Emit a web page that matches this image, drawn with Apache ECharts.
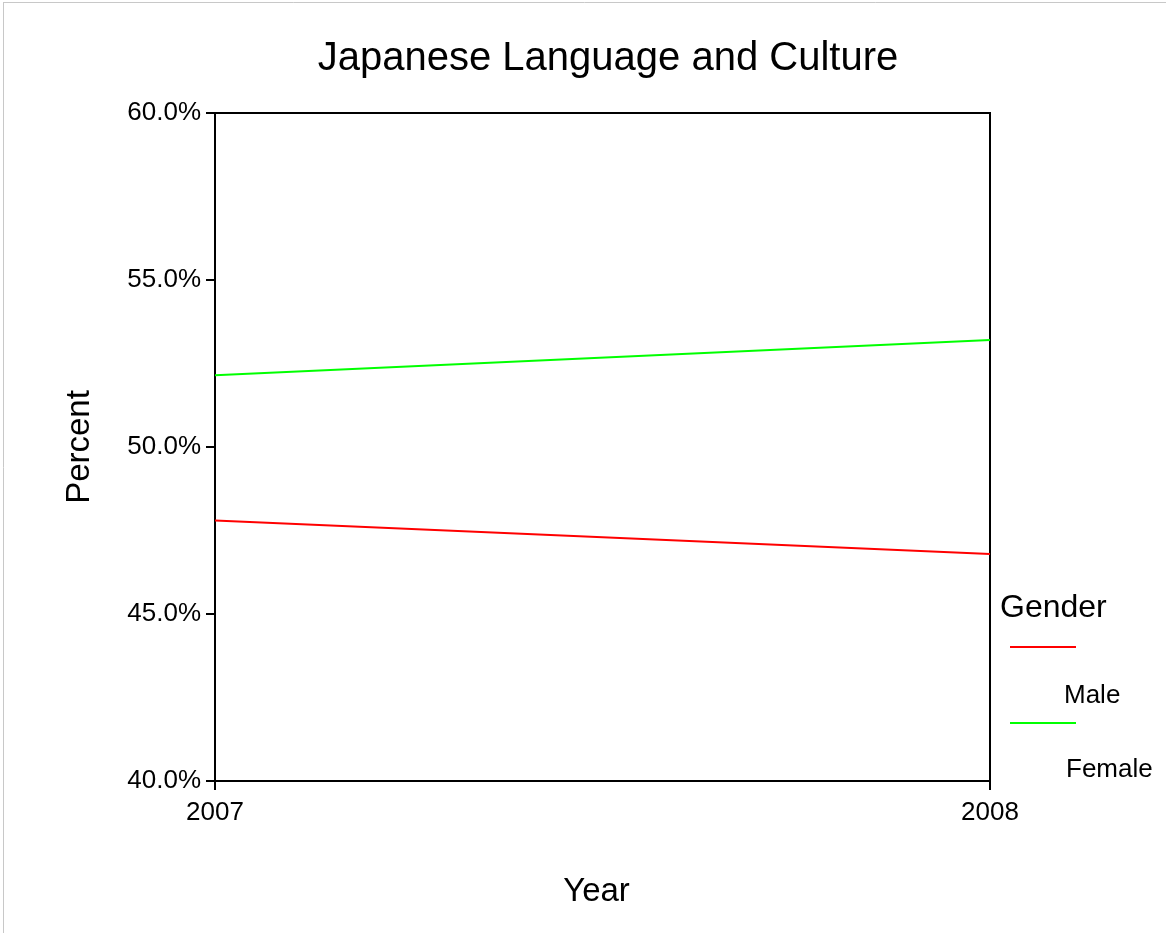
<!DOCTYPE html>
<html>
<head>
<meta charset="utf-8">
<script src="https://cdn.jsdelivr.net/npm/echarts@6/dist/echarts.min.js"></script>
<style>
html,body{margin:0;padding:0;background:#fff;}
#chart{width:1166px;height:933px;}
</style>
</head>
<body>
<div id="chart"></div>
<script>
const years = ['2007', '2008'];
const maleValues = [47.8, 46.8];
const femaleValues = [52.15, 53.2];
const seriesNames = ['Male', 'Female'];
const seriesColors = ['#ff0000', '#00ff00'];
const yTicks = [40, 45, 50, 55, 60];

const FONT = '"Liberation Sans", Arial, sans-serif';
const chart = echarts.init(document.getElementById('chart'));

chart.setOption({
  backgroundColor: '#ffffff',
  animation: false,
  title: {
    text: 'Japanese Language and Culture',
    left: 603, top: 34, textAlign: 'center',
    textStyle: { fontFamily: FONT, fontSize: 40, fontWeight: 'normal', color: '#000' }
  },
  grid: {
    left: 215, right: 176, top: 113, bottom: 152,
    show: true, borderColor: '#000', borderWidth: 2, backgroundColor: 'transparent'
  },
  xAxis: {
    type: 'category',
    data: years,
    boundaryGap: false,
    name: 'Year',
    nameLocation: 'middle',
    nameGap: 94,
    nameTextStyle: { fontFamily: FONT, fontSize: 33, color: '#000', padding: [0, 12, 0, 0] },
    axisLine: { lineStyle: { color: '#000', width: 2 } },
    axisTick: { show: true, length: 9, inside: false, lineStyle: { color: '#000', width: 2 } },
    axisLabel: { margin: 19, fontFamily: FONT, fontSize: 26, color: '#000' },
    splitLine: { show: false }
  },
  yAxis: {
    type: 'value',
    min: yTicks[0], max: yTicks[yTicks.length - 1], interval: 5,
    name: 'Percent',
    nameLocation: 'middle',
    nameGap: 119,
    nameRotate: 90,
    nameTextStyle: { fontFamily: FONT, fontSize: 33, color: '#000' },
    axisLine: { show: true, lineStyle: { color: '#000', width: 2 } },
    axisTick: { show: true, length: 9, lineStyle: { color: '#000', width: 2 } },
    axisLabel: { margin: 14, fontFamily: FONT, fontSize: 26, color: '#000',
      formatter: v => v.toFixed(1) + '%' },
    splitLine: { show: false }
  },
  series: [
    { name: seriesNames[0], type: 'line', data: maleValues, symbol: 'none',
      lineStyle: { color: seriesColors[0], width: 2 }, itemStyle: { color: seriesColors[0] } },
    { name: seriesNames[1], type: 'line', data: femaleValues, symbol: 'none',
      lineStyle: { color: seriesColors[1], width: 2 }, itemStyle: { color: seriesColors[1] } }
  ],
  graphic: [
    { type: 'line', shape: { x1: 3, y1: 2.5, x2: 1166, y2: 2.5 }, style: { stroke: '#c8c8c8', lineWidth: 1 } },
    { type: 'line', shape: { x1: 3.5, y1: 2, x2: 3.5, y2: 933 }, style: { stroke: '#c8c8c8', lineWidth: 1 } },
    { type: 'text', left: 1000, top: 592, style: { text: 'Gender', font: '32px ' + FONT, fill: '#000' } },
    { type: 'line', shape: { x1: 1010, y1: 647, x2: 1076, y2: 647 }, style: { stroke: seriesColors[0], lineWidth: 2 } },
    { type: 'text', left: 1064, top: 683, style: { text: seriesNames[0], font: '26px ' + FONT, fill: '#000' } },
    { type: 'line', shape: { x1: 1010, y1: 723, x2: 1076, y2: 723 }, style: { stroke: seriesColors[1], lineWidth: 2 } },
    { type: 'text', left: 1066, top: 757, style: { text: seriesNames[1], font: '26px ' + FONT, fill: '#000' } }
  ]
});
</script>
</body>
</html>
